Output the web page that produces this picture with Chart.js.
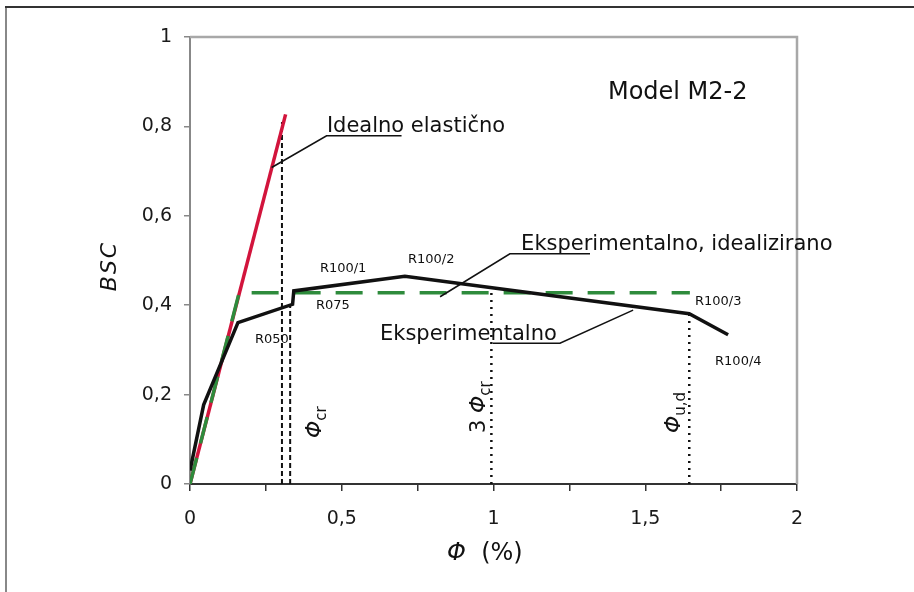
<!DOCTYPE html>
<html>
<head>
<meta charset="utf-8">
<script src="https://cdn.jsdelivr.net/npm/chart.js@4.4.0/dist/chart.umd.min.js"></script>
<style>
  html, body { margin: 0; padding: 0; background: #fff; }
  canvas { display: block; }
</style>
</head>
<body>
<canvas id="chart" width="914" height="592"></canvas>
<script>
// values (x = rotation Φ in %, y = BSC)
const elasticX = [0, 0.315];
const elasticY = [0, 0.827];
const idealX = [0, 0.162, 1.647];
const idealY = [0, 0.428, 0.428];
const expX = [0, 0.045, 0.158, 0.338, 0.342, 0.708, 1.645, 1.773];
const expY = [0.03, 0.177, 0.361, 0.402, 0.432, 0.465, 0.381, 0.334];

// vertical marker lines (x position, top of line)
const dashedX = [0.303, 0.33];
const dashedTop = [0.81, 0.40];
const dottedX = [0.993, 1.645];
const dottedTop = [0.428, 0.381];

const xTickLabels = [0, 0.5, 1, 1.5, 2];
const yTickLabels = [0, 0.2, 0.4, 0.6, 0.8, 1];

const FONT = 'DejaVu Sans';

// text placed in data units: [text, x, y, size]
const notes = [
  ['Model M2-2', 1.377, 0.861, 24],
  ['Idealno elastično', 0.451, 0.787, 21],
  ['Eksperimentalno, idealizirano', 1.091, 0.523, 21],
  ['Eksperimentalno', 0.626, 0.322, 21],
  ['R050', 0.214, 0.315, 13],
  ['R075', 0.415, 0.391, 13],
  ['R100/1', 0.428, 0.474, 13],
  ['R100/2', 0.718, 0.494, 13],
  ['R100/3', 1.664, 0.400, 13],
  ['R100/4', 1.730, 0.266, 13]
];

// leader lines, polyline points in data units
const leaders = [
  [[0.269, 0.708], [0.450, 0.779], [0.697, 0.779]],
  [[0.824, 0.419], [1.054, 0.515], [1.318, 0.515]],
  [[1.460, 0.389], [1.219, 0.315], [0.998, 0.315]]
];

// rotated labels next to the vertical lines: parts, x (baseline), y (start)
const sideLabels = [
  [[['Φ', 'italic 22px'], ['cr', '15px', 5]], 0.432, 0.103],
  [[['3 ', '21px'], ['Φ', 'italic 22px'], ['cr', '15px', 5]], 0.972, 0.114],
  [[['Φ', 'italic 22px'], ['u,d', '15px', 5]], 1.613, 0.114]
];

const pts = (xs, ys) => xs.map((x, i) => ({ x, y: ys[i] }));
const fmt = v => String(parseFloat(v.toFixed(2))).replace('.', ',');
const isLabel = (list, v) => list.some(t => Math.abs(t - v) < 1e-6);

function drawParts(c, parts, x, y) {
  let off = 0;
  parts.forEach(([t, f, dy]) => {
    c.font = f + ' ' + FONT;
    c.fillText(t, x + off, y + (dy || 0));
    off += c.measureText(t).width;
  });
}

const decor = {
  id: 'decor',
  beforeDraw(chart) {
    const c = chart.ctx;
    c.save();
    c.fillStyle = '#fff';
    c.fillRect(0, 0, chart.width, chart.height);
    c.lineWidth = 2;
    c.strokeStyle = '#888';
    c.beginPath(); c.moveTo(6, chart.height); c.lineTo(6, 7); c.stroke();
    c.strokeStyle = '#333';
    c.beginPath(); c.moveTo(5, 7); c.lineTo(chart.width, 7); c.stroke();
    c.restore();
  },
  beforeDatasetsDraw(chart) {
    const c = chart.ctx, a = chart.chartArea;
    c.save();
    c.strokeStyle = '#a8a8a8';
    c.lineWidth = 2.5;
    c.beginPath();
    c.moveTo(a.left, a.top); c.lineTo(a.right, a.top); c.lineTo(a.right, a.bottom);
    c.stroke();
    c.restore();
  },
  afterDatasetsDraw(chart) {
    const c = chart.ctx, sx = chart.scales.x, sy = chart.scales.y;
    const px = v => sx.getPixelForValue(v), py = v => sy.getPixelForValue(v);
    c.save();
    c.strokeStyle = '#111';
    c.lineWidth = 1.6;
    leaders.forEach(line => {
      c.beginPath();
      line.forEach(([x, y], i) => i ? c.lineTo(px(x), py(y)) : c.moveTo(px(x), py(y)));
      c.stroke();
    });
    c.fillStyle = '#111';
    c.textBaseline = 'alphabetic';
    c.textAlign = 'left';
    notes.forEach(([t, x, y, s]) => {
      c.font = s + 'px ' + FONT;
      c.fillText(t, px(x), py(y));
    });
    sideLabels.forEach(([parts, x, y]) => {
      c.save();
      c.translate(px(x), py(y));
      c.rotate(-Math.PI / 2);
      drawParts(c, parts, 0, 0);
      c.restore();
    });
    // axis titles
    drawParts(c, [['Φ', 'italic 24px'], ['  (%)', '24px']], 447, 560);
    c.save();
    c.translate(116, 266);
    c.rotate(-Math.PI / 2);
    c.font = 'italic 22px ' + FONT;
    c.letterSpacing = '2px';
    c.textAlign = 'center';
    c.fillText('BSC', 0, 0);
    c.restore();
    c.restore();
  }
};

const datasets = [
  { data: pts(expX, expY), borderColor: '#111', borderWidth: 3.5, order: 1 },
  { data: pts(idealX, idealY), borderColor: '#2e8b3c', borderWidth: 3.5, borderDash: [27, 15], order: 2 },
  { data: pts(elasticX, elasticY), borderColor: '#d2143c', borderWidth: 3.5, order: 3 }
];
dashedX.forEach((x, i) => datasets.push({
  data: [{ x, y: 0 }, { x, y: dashedTop[i] }],
  borderColor: '#111', borderWidth: 2, borderDash: [5, 3], order: 4
}));
dottedX.forEach((x, i) => datasets.push({
  data: [{ x, y: 0 }, { x, y: dottedTop[i] }],
  borderColor: '#111', borderWidth: 2.5, borderDash: [2, 5], order: 4
}));

new Chart(document.getElementById('chart'), {
  type: 'line',
  data: { datasets },
  options: {
    responsive: false,
    animation: false,
    layout: { padding: { left: 0, top: 37, right: 117, bottom: 0 } },
    elements: { point: { radius: 0 }, line: { tension: 0 } },
    plugins: { legend: { display: false }, tooltip: { enabled: false } },
    scales: {
      x: {
        type: 'linear', min: 0, max: 2,
        afterFit: s => { s.height = 108; },
        grid: { drawOnChartArea: false, drawTicks: true, tickLength: 7, color: '#333', lineWidth: 1.5 },
        border: { display: true, color: '#333', width: 2 },
        ticks: {
          stepSize: 0.25, autoSkip: false, maxRotation: 0, padding: 17,
          color: '#1a1a1a', font: { family: FONT, size: 19 },
          callback: v => isLabel(xTickLabels, v) ? fmt(v) : ''
        }
      },
      y: {
        type: 'linear', min: 0, max: 1,
        afterFit: s => { s.width = 190; },
        grid: { drawOnChartArea: false, drawTicks: true, tickLength: 6, color: '#888', lineWidth: 1.5 },
        border: { display: true, color: '#888', width: 2 },
        ticks: {
          stepSize: 0.2, padding: 12,
          color: '#1a1a1a', font: { family: FONT, size: 19 },
          callback: v => isLabel(yTickLabels, v) ? fmt(v) : ''
        }
      }
    }
  },
  plugins: [decor]
});
</script>
</body>
</html>
